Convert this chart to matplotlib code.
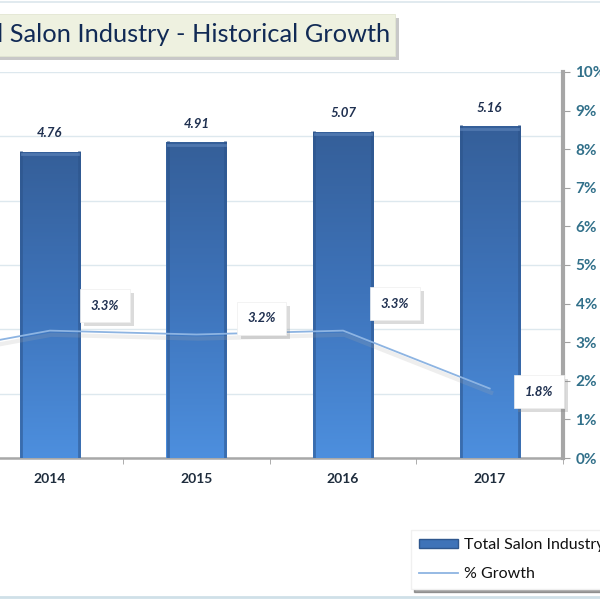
import numpy as np
import matplotlib
matplotlib.use('Agg')
import matplotlib.pyplot as plt
from matplotlib import patheffects
from matplotlib.patches import Patch, FancyBboxPatch
from matplotlib.lines import Line2D
from matplotlib.colors import LinearSegmentedColormap

plt.rcParams['font.family'] = ['Lato', 'DejaVu Sans']

years = ['2013', '2014', '2015', '2016', '2017']
industry = [4.61, 4.76, 4.91, 5.07, 5.16]
growth = [2.6, 3.3, 3.2, 3.3, 1.8]
bar_labels = ['4.61', '4.76', '4.91', '5.07', '5.16']
growth_labels = ['2.6%', '3.3%', '3.2%', '3.3%', '1.8%']
label_offsets = [(55, 25), (55, 25), (65, 16), (52, 27), (49, -3)]

W = 600.0
fig = plt.figure(figsize=(6, 6), dpi=100)

# the original chart is cropped: its left part lies outside the picture
ax = fig.add_axes([-170 / W, 1 - 458 / W, 733 / W, 386 / W])
x = np.arange(len(years))

bars = ax.bar(x, industry, width=0.41, color='#3f73b8', zorder=3)
grad = LinearSegmentedColormap.from_list('g', ['#355f99', '#3e74bb', '#4d8fde'])
for b in bars:
    bx, by, bw, bh = b.get_x(), b.get_y(), b.get_width(), b.get_height()
    im = ax.imshow(np.linspace(0, 1, 256).reshape(-1, 1), cmap=grad, aspect='auto',
                   extent=(bx, bx + bw, by, by + bh), origin='upper', zorder=3.1)
    im.set_clip_path(b)
    # darker side edges, small bevel
    ax.plot([bx + bw * 0.02, bx + bw * 0.02], [0, bh], color='#2b5288', lw=2, zorder=3.2, alpha=0.55)
    ax.plot([bx + bw * 0.98, bx + bw * 0.98], [0, bh], color='#2b5288', lw=2, zorder=3.2, alpha=0.55)
    ax.plot([bx + bw * 0.03, bx + bw * 0.97], [bh - 0.04, bh - 0.04], color='#5b82b8', lw=2, zorder=3.2, alpha=0.7)

for xi, v, t in zip(x, industry, bar_labels):
    ax.annotate(t, (xi, v), xytext=(0, 9), textcoords='offset points', ha='center', va='bottom',
                fontsize=9.5, fontweight='bold', fontstyle='italic', color='#1f3050', zorder=6)

ax.set_ylim(0, 6)
ax.set_xlim(-0.5, len(years) - 0.5)
ax.set_yticks(np.arange(0, 7, 1))
ax.grid(axis='y', color='#dde8ee', lw=1, zorder=0)
ax.set_axisbelow(True)
ax.set_xticks(x)
ax.set_xticklabels(years, fontsize=10, fontweight='bold', color='#1f2d3d')
ax.set_xticks(np.arange(-0.5, len(years), 1), minor=True)
ax.tick_params(axis='x', which='major', length=0, pad=11)
ax.tick_params(axis='x', which='minor', length=4, color='#a0a0a0', direction='out')
for s in ['top', 'right', 'left']:
    ax.spines[s].set_visible(False)
ax.spines['bottom'].set_color('#a8a8a8')
ax.spines['bottom'].set_linewidth(1.8)
ax.set_facecolor('none')

ax2 = ax.twinx()
ax2.plot(x, growth, color='#8db4e2', lw=1.3, zorder=5,
         path_effects=[patheffects.SimpleLineShadow(offset=(1, -3), shadow_color='#aaaaaa', alpha=0.2, linewidth=3),
                       patheffects.Normal()])
ax2.set_ylim(0, 10)
ax2.set_yticks(np.arange(0, 11, 1))
ax2.set_yticklabels([f'{i}%' for i in range(11)], fontsize=11, fontweight='bold', color='#31708a')
ax2.tick_params(axis='y', length=5, color='#a0a0a0', pad=4)
for s in ['top', 'left', 'bottom']:
    ax2.spines[s].set_visible(False)
ax2.spines['right'].set_color('#a6a6a6')
ax2.spines['right'].set_linewidth(3)

for xi, v, t, off in zip(x, growth, growth_labels, label_offsets):
    a = ax2.annotate(t, (xi, v), xytext=off, textcoords='offset pixels', ha='center', va='center',
                     fontsize=9.5, fontweight='bold', fontstyle='italic', color='#1f3050', zorder=7,
                     bbox=dict(boxstyle='square,pad=0.8', fc='white', ec='#eeeeee', lw=0.5))
    a.get_bbox_patch().set_path_effects([patheffects.withSimplePatchShadow(offset=(3, -3), shadow_rgbFace='#888888', alpha=0.3)])

# title box
tb = FancyBboxPatch((-0.05, 1 - 56 / W), 0.05 + 395 / W, 42 / W, boxstyle='square,pad=0',
                    transform=fig.transFigure, fc='#eef1e0', ec='#e2e6d2', lw=0.6,
                    path_effects=[patheffects.withSimplePatchShadow(offset=(3, -3), shadow_rgbFace='#777777', alpha=0.4)])
fig.add_artist(tb)
fig.text(390 / W, 1 - 35 / W, 'Total Salon Industry - Historical Growth', ha='right', va='center',
         fontsize=18.3, color='#112a55')

# chart border lines
fig.add_artist(Line2D([0, 1], [1 - 2 / W, 1 - 2 / W], transform=fig.transFigure, color='#dbe6ec', lw=1.2))
fig.add_artist(Line2D([0, 1], [1 - 597 / W, 1 - 597 / W], transform=fig.transFigure, color='#cfe0e8', lw=2))

handles = [Patch(facecolor='#3f73b8', edgecolor='#2f578e'),
           Line2D([], [], color='#8db4e2', lw=1.3)]
leg = fig.legend(handles, ['Total Salon Industry', '% Growth'], loc='upper left',
                 bbox_to_anchor=(403 / W, 1 - 522 / W), fontsize=11.5, frameon=True, shadow=True,
                 fancybox=False, edgecolor='#f0f0f0', handlelength=2.45, handleheight=0.55,
                 handletextpad=0.35, borderpad=0.5, labelspacing=0.95)
for t in leg.get_texts():
    t.set_color('#111111')

fig.savefig('out.png', dpi=100)
